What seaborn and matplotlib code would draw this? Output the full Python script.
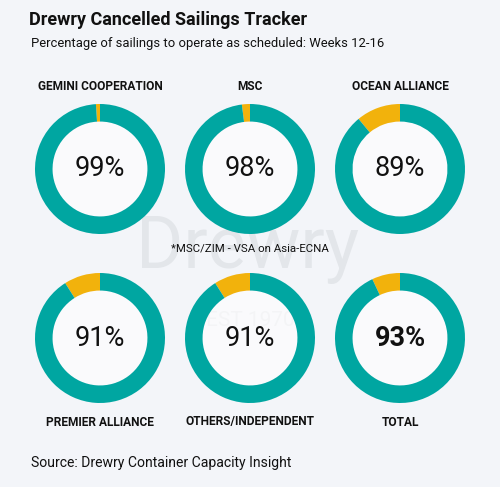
import matplotlib
matplotlib.use("Agg")
import matplotlib.pyplot as plt
import seaborn as sns

groups = ["GEMINI COOPERATION", "MSC", "OCEAN ALLIANCE",
          "PREMIER ALLIANCE", "OTHERS/INDEPENDENT", "TOTAL"]
scheduled = [99, 98, 89, 91, 91, 93]

title = "Drewry Cancelled Sailings Tracker"
subtitle = "Percentage of sailings to operate as scheduled: Weeks 12-16"
note = "*MSC/ZIM - VSA on Asia-ECNA"
source = "Source: Drewry Container Capacity Insight"

teal = "#00a6a1"
amber = "#f2b20c"
bg = "#f3f5f9"

sns.set_theme(style="white")
plt.rcParams["font.family"] = ["Roboto", "DejaVu Sans"]

W, H = 500, 487
fig = plt.figure(figsize=(W / 100, H / 100), dpi=100, facecolor=bg)

# faint watermark behind everything
fig.text(248 / W, 1 - 250 / H, "Drewry", fontsize=52, color="#e3e6ea",
         ha="center", va="center", zorder=-1)
fig.text(250 / W, 1 - 320 / H, "EST 1970", fontsize=15, color="#e4e6ea",
         ha="center", va="center", zorder=-1)

centers = [(100, 169), (250, 169), (400, 169),
           (100, 338), (250, 338), (400, 338)]
r = 65
for i, (name, val) in enumerate(zip(groups, scheduled)):
    cx, cy = centers[i]
    ax = fig.add_axes([(cx - r) / W, 1 - (cy + r) / H, 2 * r / W, 2 * r / H])
    ax.set_zorder(1)
    ax.set_facecolor("none")
    ax.pie([100 - val, val], colors=[amber, teal], startangle=90,
           counterclock=True, radius=1,
           wedgeprops=dict(width=0.27, edgecolor="none"))
    # whitish hole, lets the watermark show through a little
    ax.add_patch(plt.Circle((0, 0), 0.73, color="white", alpha=0.6,
                            lw=0, zorder=0))
    ax.set_xlim(-1, 1)
    ax.set_ylim(-1, 1)
    ax.set_aspect("equal")
    ax.text(0, 0, f"{val}%", ha="center", va="center", fontsize=19.5,
            color="#111111",
            fontweight="bold" if name == "TOTAL" else "normal")
    ly = 86 if i < 3 else 422
    fig.text(cx / W, 1 - ly / H, name, ha="center", va="center",
             fontsize=8.6, fontweight="bold", color="#111111", zorder=2)

fig.text(29 / W, 1 - 20 / H, title, fontsize=13, fontweight="bold",
         ha="left", va="center", color="#111111")
fig.text(31 / W, 1 - 43 / H, subtitle, fontsize=9.4,
         ha="left", va="center", color="#111111")
fig.text(250 / W, 1 - 248 / H, note, fontsize=8.2,
         ha="center", va="center", color="#111111", zorder=2)
fig.text(31 / W, 1 - 463 / H, source, fontsize=10.1,
         ha="left", va="center", color="#111111")

fig.savefig("out.png", dpi=100, facecolor=bg)
